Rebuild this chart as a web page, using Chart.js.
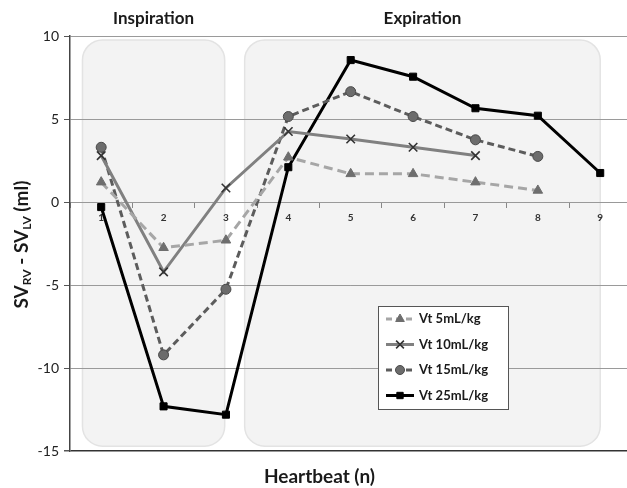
<!DOCTYPE html>
<html>
<head>
<meta charset="utf-8">
<script src="https://cdn.jsdelivr.net/npm/chart.js@4"></script>
<style>
  html, body { margin: 0; padding: 0; background: #fff; overflow: hidden; }
  #clip { width: 627px; height: 488px; overflow: hidden; }
  #wrap { width: 639px; height: 488px; }
</style>
</head>
<body>
<div id="clip"><div id="wrap"><canvas id="chart"></canvas></div></div>
<script>
// valores (SV_RV - SV_LV em ml por batimento)
const HEARTBEATS = ["1", "2", "3", "4", "5", "6", "7", "8", "9"];
const VT5 = [1.2, -2.75, -2.3, 2.7, 1.7, 1.7, 1.2, 0.7, null];
const VT10 = [2.8, -4.2, 0.85, 4.25, 3.8, 3.3, 2.8, null, null];
const VT15 = [3.3, -9.2, -5.25, 5.15, 6.65, 5.15, 3.75, 2.75, null];
const VT25 = [-0.3, -12.3, -12.8, 2.1, 8.55, 7.55, 5.65, 5.2, 1.75];
const Y_TICKS = [10, 5, 0, -5, -10, -15];
const PHASES = [
  { label: "Inspiration", from: -0.3, to: 1.98 },
  { label: "Expiration", from: 2.3, to: 8.0 },
];

const FONT = "Lato, 'Open Sans', sans-serif";

const SERIES = [
  { label: "Vt 5mL/kg", data: VT5, line: "#a6a6a6", dash: [9, 5], style: "triangle", fill: "#6e6e6e", stroke: "#6e6e6e", r: 5.5, bw: 1 },
  { label: "Vt 10mL/kg", data: VT10, line: "#808080", dash: [], style: "crossRot", fill: "#9a9a9a", stroke: "#333", r: 6, bw: 1.6 },
  { label: "Vt 15mL/kg", data: VT15, line: "#5c5c5c", dash: [7, 4], style: "circle", fill: "#6c6c6c", stroke: "#4a4a4a", r: 5, bw: 1 },
  { label: "Vt 25mL/kg", data: VT25, line: "#000000", dash: [], style: "rect", fill: "#000", stroke: "#000", r: 5, bw: 1 },
];

// fundos arredondados das fases + rótulos no topo
const phasesPlugin = {
  id: "phases",
  beforeDraw(chart) {
    const { ctx, chartArea, scales } = chart;
    const step = scales.x.getPixelForValue(1) - scales.x.getPixelForValue(0);
    ctx.save();
    PHASES.forEach((p) => {
      const x0 = scales.x.getPixelForValue(0) + p.from * step;
      const x1 = scales.x.getPixelForValue(0) + p.to * step;
      const y0 = chartArea.top + 4, y1 = chartArea.bottom - 5;
      ctx.beginPath();
      ctx.roundRect(x0, y0, x1 - x0, y1 - y0, 20);
      ctx.fillStyle = "#f3f3f3";
      ctx.fill();
      ctx.strokeStyle = "#e3e3e3";
      ctx.lineWidth = 1.5;
      ctx.stroke();
      ctx.fillStyle = "#1a1a1a";
      ctx.font = "bold 17px " + FONT;
      ctx.textAlign = "center";
      ctx.textBaseline = "middle";
      ctx.fillText(p.label, (x0 + x1) / 2, 19);
    });
    ctx.restore();
  },
  afterDraw(chart) {
    const { ctx, chartArea } = chart;
    ctx.save();
    // título do eixo y com subscritos
    ctx.translate(22, (chartArea.top + chartArea.bottom) / 2 + 1);
    ctx.rotate(-Math.PI / 2);
    ctx.fillStyle = "#1a1a1a";
    ctx.textBaseline = "middle";
    const parts = [["SV", 19, 0], ["RV", 12, 5], [" - SV", 19, 0], ["LV", 12, 5], [" (ml)", 19, 0]];
    let w = 0;
    parts.forEach(([t, s]) => { ctx.font = "bold " + s + "px " + FONT; w += ctx.measureText(t).width; });
    let x = -w / 2;
    parts.forEach(([t, s, dy]) => {
      ctx.font = "bold " + s + "px " + FONT;
      ctx.fillText(t, x, dy);
      x += ctx.measureText(t).width;
    });
    ctx.restore();

    // legenda dentro da área do gráfico
    ctx.save();
    const lx = 378, ly = 306, lw = 130, lh = 103;
    ctx.fillStyle = "#fff";
    ctx.fillRect(lx, ly, lw, lh);
    ctx.strokeStyle = "#555";
    ctx.lineWidth = 1;
    ctx.strokeRect(lx + 0.5, ly + 0.5, lw, lh);
    SERIES.forEach((s, i) => {
      const y = 319 + i * 25.5;
      ctx.beginPath();
      ctx.setLineDash(s.dash.length ? [6, 4] : []);
      ctx.strokeStyle = s.line;
      ctx.lineWidth = 3;
      ctx.moveTo(386, y);
      ctx.lineTo(414, y);
      ctx.stroke();
      ctx.setLineDash([]);
      ctx.fillStyle = s.fill;
      ctx.strokeStyle = s.stroke;
      ctx.lineWidth = s.bw;
      Chart.helpers.drawPoint(ctx, { pointStyle: s.style, radius: s.r - 0.5, borderWidth: s.bw }, 400, y);
      ctx.fillStyle = "#1a1a1a";
      ctx.font = "bold 13px " + FONT;
      ctx.textAlign = "left";
      ctx.textBaseline = "middle";
      ctx.fillText(s.label, 419, y);
    });
    ctx.restore();
  },
};

new Chart(document.getElementById("chart"), {
  type: "line",
  data: {
    labels: HEARTBEATS,
    datasets: SERIES.map((s) => ({
      label: s.label,
      data: s.data,
      borderColor: s.line,
      borderWidth: 3,
      borderDash: s.dash,
      pointStyle: s.style,
      pointRadius: s.r,
      pointBackgroundColor: s.fill,
      pointBorderColor: s.stroke,
      pointBorderWidth: s.bw,
      tension: 0,
      spanGaps: false,
    })),
  },
  options: {
    responsive: true,
    maintainAspectRatio: false,
    animation: false,
    layout: { padding: { top: 36, right: 0, left: 0, bottom: 0 } },
    plugins: {
      legend: { display: false },
      tooltip: { enabled: false },
      title: {
        display: true,
        position: "bottom",
        text: "Heartbeat (n)",
        color: "#1a1a1a",
        font: { family: FONT, size: 19, weight: "bold" },
        padding: { top: 14, bottom: 0 },
      },
    },
    scales: {
      x: {
        type: "category",
        position: { y: 0 },
        offset: true,
        grid: { offset: true, drawOnChartArea: false, drawTicks: true, tickLength: 5, color: "#888" },
        border: { display: true, color: "#999", width: 1 },
        ticks: { color: "#333", font: { family: FONT, size: 10, weight: "bold" }, padding: 5, maxRotation: 0 },
      },
      y: {
        min: -15,
        max: 10,
        afterBuildTicks(scale) { scale.ticks = Y_TICKS.map((v) => ({ value: v })); },
        afterFit(scale) { scale.width = 70; },
        grid: {
          color: (c) => (c.tick && c.tick.value === -15 ? "#333" : "#9a9a9a"),
          lineWidth: (c) => (c.tick && c.tick.value === -15 ? 1.5 : 1),
          tickColor: "#555",
          tickLength: 6,
        },
        border: { display: true, color: "#444", width: 1.5 },
        ticks: { color: "#222", font: { family: FONT, size: 14 }, padding: 5 },
      },
    },
  },
  plugins: [phasesPlugin],
});
</script>
</body>
</html>
